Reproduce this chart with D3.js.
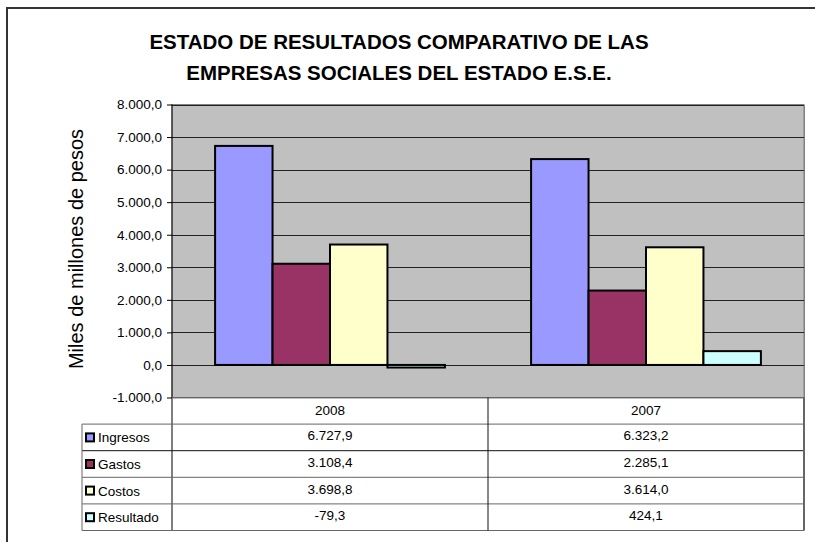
<!DOCTYPE html>
<html>
<head>
<meta charset="utf-8">
<script src="https://cdn.jsdelivr.net/npm/d3@7"></script>
<style>
  body { margin: 0; background: #fff; }
  svg { display: block; font-family: "Liberation Sans", Arial, sans-serif; }
</style>
</head>
<body>
<div id="chart"></div>
<script>
// data
var years = ["2008", "2007"];
var seriesNames = ["Ingresos", "Gastos", "Costos", "Resultado"];
var ingresos = [6727.9, 6323.2];
var gastos = [3108.4, 2285.1];
var costos = [3698.8, 3614.0];
var resultado = [-79.3, 424.1];
var yTicks = [-1000, 0, 1000, 2000, 3000, 4000, 5000, 6000, 7000, 8000];
var seriesColors = ["#9999FF", "#993366", "#FFFFCC", "#CCFFFF"];

var seriesValues = [ingresos, gastos, costos, resultado];

var width = 815, height = 542;
var plot = {left: 172, right: 804, top: 104.5, bottom: 397.5};
var tableLeft = 82, rowH = 26.6;

var es = d3.formatLocale({decimal: ",", thousands: ".", grouping: [3], currency: ["", ""], minus: "-"});
var fmt = es.format(",.1f");

var svg = d3.select("#chart").append("svg")
  .attr("width", width)
  .attr("height", height);

// outer frame (cut at right and bottom like the original)
svg.append("rect")
  .attr("x", 7).attr("y", 8)
  .attr("width", 840).attr("height", 560)
  .attr("fill", "#fff")
  .attr("stroke", "#333").attr("stroke-width", 2);

// title
svg.append("text")
  .attr("x", 399).attr("y", 49)
  .attr("text-anchor", "middle")
  .attr("font-size", "20.5px").attr("font-weight", "bold")
  .text("ESTADO DE RESULTADOS COMPARATIVO DE LAS");
svg.append("text")
  .attr("x", 399).attr("y", 80)
  .attr("text-anchor", "middle")
  .attr("font-size", "20.5px").attr("font-weight", "bold")
  .text("EMPRESAS SOCIALES DEL ESTADO E.S.E.");

var y = d3.scaleLinear().domain([-1000, 8000]).range([plot.bottom, plot.top]);
var x0 = d3.scaleBand().domain(years).range([plot.left, plot.right]);
var x1 = d3.scaleBand().domain(seriesNames).range([0, x0.bandwidth()]).paddingOuter(0.75);

// plot area
svg.append("rect")
  .attr("x", plot.left + 1).attr("y", plot.top + 1)
  .attr("width", plot.right - plot.left).attr("height", plot.bottom - plot.top)
  .attr("fill", "#808080");
svg.append("rect")
  .attr("x", plot.left).attr("y", plot.top)
  .attr("width", plot.right - plot.left).attr("height", plot.bottom - plot.top)
  .attr("fill", "#C0C0C0")
  .attr("stroke", "#808080").attr("stroke-width", 1);

// gridlines
svg.append("g")
  .selectAll("line")
  .data(yTicks.filter(function(d) { return d > -1000; }))
  .enter().append("line")
  .attr("x1", plot.left).attr("x2", plot.right)
  .attr("y1", function(d) { return Math.round(y(d)) + 0.5; })
  .attr("y2", function(d) { return Math.round(y(d)) + 0.5; })
  .attr("stroke", "#222").attr("stroke-width", 1);

// y axis
var yAxis = svg.append("g")
  .attr("transform", "translate(" + plot.left + ",0)")
  .call(d3.axisLeft(y).tickValues(yTicks).tickFormat(fmt).tickSize(5).tickPadding(5));
yAxis.select(".domain").remove();
yAxis.selectAll(".tick line").attr("stroke", "#000");
yAxis.selectAll("text").attr("font-size", "13.5px").attr("fill", "#000")
  .attr("font-family", "'Liberation Sans', Arial, sans-serif");
svg.append("line")
  .attr("x1", plot.left).attr("x2", plot.left)
  .attr("y1", plot.top).attr("y2", plot.bottom + rowH * 5)
  .attr("stroke", "#000").attr("stroke-width", 1);

// y axis title
svg.append("text")
  .attr("transform", "translate(83,249) rotate(-90)")
  .attr("text-anchor", "middle")
  .attr("font-size", "20px")
  .text("Miles de millones de pesos");

// bars
var groups = svg.append("g")
  .selectAll("g")
  .data(years)
  .enter().append("g")
  .attr("transform", function(d) { return "translate(" + x0(d) + ",0)"; });

groups.selectAll("rect")
  .data(function(d, i) {
    return seriesNames.map(function(s, j) { return {name: s, value: seriesValues[j][i], color: seriesColors[j]}; });
  })
  .enter().append("rect")
  .attr("x", function(d) { return x1(d.name); })
  .attr("y", function(d) { return y(Math.max(0, d.value)); })
  .attr("width", x1.bandwidth())
  .attr("height", function(d) { return Math.abs(y(d.value) - y(0)); })
  .attr("fill", function(d) { return d.color; })
  .attr("stroke", "#000").attr("stroke-width", 2);

// data table
var tableTop = plot.bottom;
var tbl = svg.append("g");
var lineColor = "#666";

// header row
tbl.append("line")
  .attr("x1", plot.left).attr("x2", plot.right)
  .attr("y1", tableTop).attr("y2", tableTop)
  .attr("stroke", lineColor);
tbl.selectAll(".hdr")
  .data(years)
  .enter().append("text")
  .attr("class", "hdr")
  .attr("x", function(d) { return x0(d) + x0.bandwidth() / 2; })
  .attr("y", tableTop + rowH / 2 + 4.5)
  .attr("text-anchor", "middle")
  .attr("font-size", "13.5px")
  .text(function(d) { return d; });

// horizontal row lines
tbl.selectAll(".hl")
  .data(d3.range(seriesNames.length + 1))
  .enter().append("line")
  .attr("x1", tableLeft).attr("x2", plot.right)
  .attr("y1", function(d) { return tableTop + rowH * (d + 1); })
  .attr("y2", function(d) { return tableTop + rowH * (d + 1); })
  .attr("stroke", function(d) { return d === 1 ? "#111" : lineColor; });

// vertical lines
tbl.append("line")
  .attr("x1", tableLeft).attr("x2", tableLeft)
  .attr("y1", tableTop + rowH).attr("y2", tableTop + rowH * 5)
  .attr("stroke", lineColor);
tbl.append("line")
  .attr("x1", x0("2007")).attr("x2", x0("2007"))
  .attr("y1", tableTop).attr("y2", tableTop + rowH * 5)
  .attr("stroke", "#111");
tbl.append("line")
  .attr("x1", plot.right).attr("x2", plot.right)
  .attr("y1", tableTop).attr("y2", tableTop + rowH * 5)
  .attr("stroke", lineColor).attr("stroke-width", 2);

// rows: legend key + name + values
var rows = tbl.selectAll(".row")
  .data(seriesNames)
  .enter().append("g")
  .attr("class", "row")
  .attr("transform", function(d, i) { return "translate(0," + (tableTop + rowH * (i + 1)) + ")"; });

rows.append("rect")
  .attr("x", 86).attr("y", rowH / 2 - 4)
  .attr("width", 8).attr("height", 8)
  .attr("fill", function(d, i) { return seriesColors[i]; })
  .attr("stroke", "#000").attr("stroke-width", 2);

rows.append("text")
  .attr("x", 98).attr("y", rowH / 2 + 5)
  .attr("font-size", "13.5px")
  .text(function(d) { return d; });

rows.selectAll(".val")
  .data(function(d, i) { return seriesValues[i].map(function(v, k) { return {v: v, year: years[k]}; }); })
  .enter().append("text")
  .attr("class", "val")
  .attr("x", function(d) { return x0(d.year) + x0.bandwidth() / 2; })
  .attr("y", rowH / 2 + 3)
  .attr("text-anchor", "middle")
  .attr("font-size", "13.5px")
  .text(function(d) { return fmt(d.v); });
</script>
</body>
</html>
